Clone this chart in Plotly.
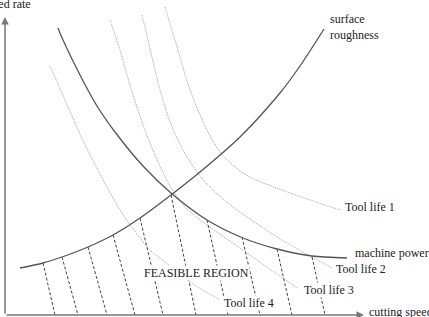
import plotly.graph_objects as go

# Schematic coordinates (pixel-like units of the reference drawing)
rough_x = [20, 43, 62, 88, 113, 140, 171, 200, 240, 280, 300, 324]
rough_y = [268, 263, 257, 247, 235, 218, 195, 172, 137, 93, 66, 29]

power_x = [58, 63, 80, 97, 115, 143, 171, 207, 243, 277, 312, 347]
power_y = [28, 40, 75, 106, 132, 166, 193, 220, 238, 249, 256, 258]

tl1_x = [165, 175, 190, 207, 220, 235, 250, 290, 340]
tl1_y = [7, 40, 90, 130, 152, 167, 177, 193, 210]

tl2_x = [142, 148, 160, 172, 187, 201, 216, 233, 277, 332]
tl2_y = [15, 40, 90, 127, 157, 177, 193, 207, 237, 268]

tl3_x = [110, 120, 130, 143, 155, 170, 185, 200, 237, 297]
tl3_y = [20, 50, 85, 125, 155, 186, 207, 220, 246, 288]

tl4_x = [50, 65, 85, 107, 120, 140, 150, 165, 190, 220]
tl4_y = [66, 100, 145, 187, 210, 238, 250, 262, 282, 300]

hatch_top_x = [43, 62, 88, 113, 140, 171, 207, 242, 277, 312]
hatch_top_y = [263, 257, 247, 235, 218, 195, 220, 237, 249, 257]
hatch_bot_x = [55, 78, 107, 135, 163, 196, 228, 260, 292, 325]
axis_y0 = 315

labels = [
    ("Tool life 1", 344, 207),
    ("machine power", 354, 253),
    ("Tool life 2", 335, 269),
    ("Tool life 3", 303, 290),
    ("Tool life 4", 223, 303),
    ("FEASIBLE REGION", 143, 273),
    ("cutting speed", 368, 312),
]

FONT = dict(family="Liberation Serif, Times New Roman, serif", size=12, color="#222")

fig = go.Figure()

for xs, ys in [(tl1_x, tl1_y), (tl2_x, tl2_y), (tl3_x, tl3_y), (tl4_x, tl4_y)]:
    fig.add_trace(go.Scatter(x=xs, y=ys, mode="lines",
                             line=dict(color="#a0a0a0", width=1, dash="1px,1px",
                                       shape="spline", smoothing=0.8),
                             hoverinfo="skip", showlegend=False))

hx, hy = [], []
for tx, ty, bx in zip(hatch_top_x, hatch_top_y, hatch_bot_x):
    hx += [tx, bx, None]
    hy += [ty, axis_y0, None]
fig.add_trace(go.Scatter(x=hx, y=hy, mode="lines",
                         line=dict(color="#444", width=1, dash="3px,2px"),
                         hoverinfo="skip", showlegend=False))

for xs, ys in [(rough_x, rough_y), (power_x, power_y)]:
    fig.add_trace(go.Scatter(x=xs, y=ys, mode="lines",
                             line=dict(color="#555", width=1.3, shape="spline", smoothing=0.8),
                             hoverinfo="skip", showlegend=False))

# axes with arrows
fig.add_annotation(x=5, y=17, ax=5, ay=axis_y0, xref="x", yref="y", axref="x", ayref="y",
                   showarrow=True, arrowhead=2, arrowsize=1, arrowwidth=1.5,
                   arrowcolor="#777", text="")
fig.add_annotation(x=364, y=axis_y0, ax=5, ay=axis_y0, xref="x", yref="y", axref="x", ayref="y",
                   showarrow=True, arrowhead=2, arrowsize=1, arrowwidth=1.5,
                   arrowcolor="#777", text="")

for txt, x, y in labels:
    fig.add_annotation(x=x, y=y, text=txt, showarrow=False, xanchor="left", yanchor="middle",
                       font=FONT, bgcolor="white", borderpad=0)

fig.add_annotation(x=328, y=27, text="surface<br>roughness", showarrow=False,
                   xanchor="left", yanchor="middle", align="left", font=FONT)
fig.add_annotation(x=0, y=4, xshift=-13, text="feed rate", showarrow=False,
                   xanchor="left", yanchor="middle", font=FONT)

fig.update_layout(
    width=429, height=317, autosize=False,
    margin=dict(l=0, r=0, t=0, b=0),
    paper_bgcolor="white", plot_bgcolor="white",
    xaxis=dict(range=[0, 429], visible=False, fixedrange=True),
    yaxis=dict(range=[317, 0], visible=False, fixedrange=True),
)

fig.write_html("out.html")
